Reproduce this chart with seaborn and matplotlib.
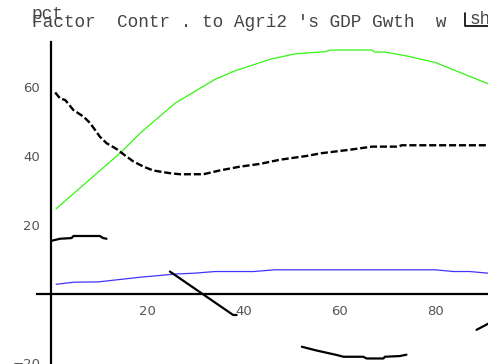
import matplotlib
matplotlib.use('Agg')
import matplotlib.pyplot as plt
import seaborn as sns
from matplotlib.lines import Line2D

# data
green_x = [1, 14.3, 18.5, 25.8, 34.1, 38.3, 45.6, 50.8, 57, 58.1, 66.8, 67.4, 69.5, 74, 80, 91.2]
green_y = [24.6, 40.7, 46.5, 55.2, 62.1, 64.6, 67.9, 69.5, 70.1, 70.6, 70.6, 70.0, 70.0, 68.9, 67.0, 60.7]

dash_x = [0.8, 1.8, 2.9, 4.6, 6.7, 8.1, 10.1, 11.5, 13.6, 15.4, 17.1, 19.2, 21.2, 24.7, 26.8,
          31.7, 35.1, 39.3, 43.5, 47.6, 53.2, 56.3, 62.2, 66.8, 72.3, 73.0, 91.2]
dash_y = [58.3, 56.6, 56.1, 53.2, 51.3, 49.4, 45.5, 43.6, 41.9, 40.0, 38.3, 36.8, 35.7, 34.9, 34.6,
          34.6, 35.7, 36.8, 37.6, 38.8, 39.9, 40.7, 41.7, 42.6, 42.6, 43.0, 43.0]

blue_x = [1, 4.6, 9.8, 18.5, 26.1, 29.6, 34.1, 42.1, 46.6, 80, 83.8, 87.2, 91.2]
blue_y = [2.7, 3.3, 3.4, 4.75, 5.7, 5.9, 6.4, 6.4, 6.9, 6.9, 6.4, 6.4, 5.9]

seg1_x = [0, 1.8, 4.2, 4.6, 10.1, 10.8, 11.5]
seg1_y = [15.3, 15.9, 16.1, 16.7, 16.7, 16.1, 15.9]
seg2_x = [24.7, 37.9, 38.6]
seg2_y = [6.4, -6.2, -6.2]
seg3_x = [52.2, 55.3, 59.5, 60.9, 65.0, 65.7, 69.2, 69.5, 72.6, 74.0]
seg3_y = [-15.4, -16.5, -17.8, -18.3, -18.3, -18.8, -18.8, -18.3, -18.1, -17.7]
seg4_x = [88.6, 91.2]
seg4_y = [-10.5, -8.6]

x_major = [20, 40, 60, 80]
x_minor = [v for v in range(5, 95, 5) if v % 20 != 0]
y_major = [-20, 20, 40, 60]
y_minor = [v for v in range(-15, 75, 5) if v % 20 != 0]

sns.set_style('white')

fig = plt.figure(figsize=(4.89, 3.64), dpi=100)
ax = fig.add_axes([0, 0, 1, 1])

sns.lineplot(x=green_x, y=green_y, ax=ax, color='#33f511', linewidth=0.9, sort=False)
sns.lineplot(x=blue_x, y=blue_y, ax=ax, color='#4433ff', linewidth=0.9, sort=False)
sns.lineplot(x=dash_x, y=dash_y, ax=ax, color='black', linewidth=1.7, sort=False,
             linestyle=(0, (3, 1.2)))
for sx, sy in [(seg1_x, seg1_y), (seg2_x, seg2_y), (seg3_x, seg3_y), (seg4_x, seg4_y)]:
    sns.lineplot(x=sx, y=sy, ax=ax, color='black', linewidth=1.6, sort=False)

ax.set_xlim(-10.7, 91.2)
ax.set_ylim(-20.4, 85.1)
ax.patch.set_alpha(0)

for s in ['top', 'right']:
    ax.spines[s].set_visible(False)
ax.spines['left'].set_position(('data', 0))
ax.spines['bottom'].set_position(('data', 0))
ax.spines['left'].set_bounds(-20.4, 73)
ax.spines['bottom'].set_bounds(-2.9, 91.2)
for s in ['left', 'bottom']:
    ax.spines[s].set_linewidth(1.6)
    ax.spines[s].set_color('black')

ax.set_xticks(x_major)
ax.set_xticks(x_minor, minor=True)
ax.set_yticks(y_major)
ax.set_yticks(y_minor, minor=True)
ax.tick_params(axis='x', which='major', direction='in', length=3, width=1.5, pad=8,
               labelsize=9.5, labelcolor='#555555', color='black')
ax.tick_params(axis='x', which='minor', direction='in', length=1.6, width=1.5, color='black')
ax.tick_params(axis='y', which='both', direction='in', length=3.4, width=1.5, pad=8,
               labelsize=9.5, labelcolor='#555555', color='black')

mono = 'Liberation Mono'
fig.text(31.7 / 489, 1 - 26.7 / 364, "Factor  Contr . to Agri2 's GDP Gwth  w",
         family=mono, fontsize=12.8, color='#444444', va='baseline', ha='left')
fig.text(31.7 / 489, 1 - 19 / 364, "pct", family=mono, fontsize=12.8,
         color='#444444', va='baseline', ha='left')
fig.text(470 / 489, 1 - 24 / 364, "sh", family=mono, fontsize=12.8,
         color='#444444', va='baseline', ha='left')
fig.add_artist(Line2D([465 / 489, 465 / 489, 1.0], [1 - 12.7 / 364, 1 - 25.5 / 364, 1 - 25.5 / 364],
                      transform=fig.transFigure, color='black', linewidth=1.2))

fig.savefig('out.png', dpi=100)
